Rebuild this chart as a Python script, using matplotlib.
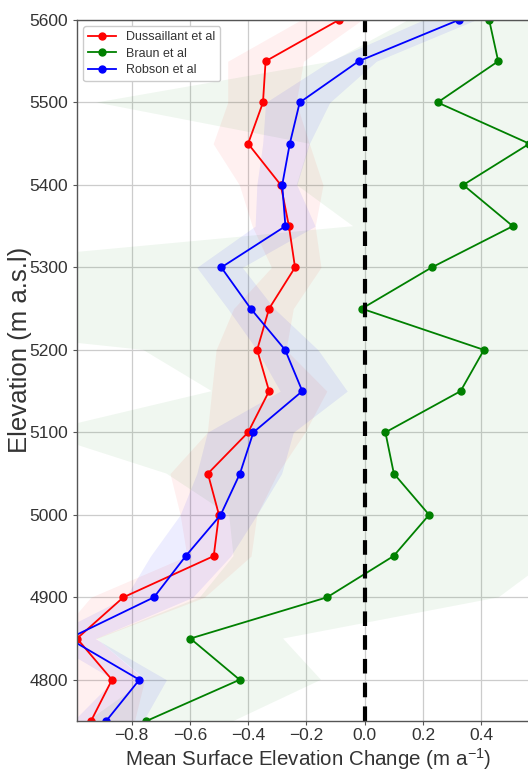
import matplotlib
matplotlib.use("Agg")
import matplotlib.pyplot as plt
import numpy as np

plt.rcParams['font.family'] = ['Liberation Sans', 'DejaVu Sans']
plt.rcParams['mathtext.fontset'] = 'custom'
plt.rcParams['mathtext.rm'] = 'Liberation Sans'
plt.rcParams['mathtext.it'] = 'Liberation Sans'
plt.rcParams['axes.unicode_minus'] = True

elev = [5600, 5550, 5500, 5450, 5400, 5350, 5300, 5250, 5200, 5150,
        5100, 5050, 5000, 4950, 4900, 4850, 4800, 4750]

dus = [-0.089, -0.34, -0.349, -0.40, -0.288, -0.26, -0.239, -0.328, -0.369, -0.328,
       -0.40, -0.538, -0.50, -0.518, -0.828, -0.987, -0.867, -0.939]
dus_lo = [-0.22, -0.47, -0.47, -0.52, -0.43, -0.386, -0.32, -0.45, -0.51, -0.525,
          -0.54, -0.668, -0.633, -0.61, -0.94, -1.06, -1.02, -1.08]
dus_hi = [-0.01, -0.21, -0.235, -0.19, -0.143, -0.17, -0.15, -0.245, -0.27, -0.13,
          -0.205, -0.30, -0.37, -0.39, -0.55, -0.92, -0.755, -0.79]

bra = [0.427, 0.458, 0.250, 0.565, 0.338, 0.508, 0.230, -0.010, 0.409, 0.329,
       0.071, 0.10, 0.221, 0.099, -0.129, -0.598, -0.429, -0.749]
bra_lo = [0.15, -0.11, -0.92, -0.19, -0.233, -0.04, -1.56, -2.1, -0.76, -0.525,
          -1.12, -0.68, -0.465, -0.45, -0.565, -0.92, -0.75, -0.95]
bra_hi = [1.0, 1.1, 1.2, 1.3, 1.2, 1.3, 1.1, 1.0, 1.2, 1.1,
          1.0, 0.9, 0.9, 0.65, 0.46, -0.28, -0.15, -0.45]

rob = [0.322, -0.021, -0.223, -0.257, -0.283, -0.272, -0.492, -0.391, -0.273, -0.214,
       -0.382, -0.428, -0.494, -0.614, -0.723, -1.015, -0.773, -0.887]
rob_lo = [0.20, -0.12, -0.34, -0.35, -0.37, -0.376, -0.576, -0.47, -0.37, -0.29,
          -0.54, -0.576, -0.633, -0.735, -0.82, -1.10, -0.86, -1.0]
rob_hi = [0.38, 0.04, -0.12, -0.19, -0.233, -0.17, -0.42, -0.31, -0.16, -0.06,
          -0.245, -0.285, -0.37, -0.46, -0.59, -0.925, -0.68, -0.76]

xticks = [-0.8, -0.6, -0.4, -0.2, 0.0, 0.2, 0.4]
yticks = [4800, 4900, 5000, 5100, 5200, 5300, 5400, 5500, 5600]

fig = plt.figure(figsize=(5.28, 7.74), dpi=100)
ax = fig.add_axes([77/528, 1-721/774, 462.6/528, (721-20)/774])

ax.fill_betweenx(elev, dus_lo, dus_hi, color='red', alpha=0.06, lw=0)
ax.fill_betweenx(elev, bra_lo, bra_hi, color='green', alpha=0.06, lw=0)
ax.fill_betweenx(elev, rob_lo, rob_hi, color='blue', alpha=0.07, lw=0)

ax.plot(dus, elev, '-o', color='red', lw=1.3, ms=5, label='Dussaillant et al')
ax.plot(bra, elev, '-o', color='green', lw=1.3, ms=5, label='Braun et al')
ax.plot(rob, elev, '-o', color='blue', lw=1.3, ms=5, label='Robson et al')

ax.axvline(0, color='black', lw=3, ls=(0, (3.5, 2.2)))

ax.set_xlim(-0.987, 0.6)
ax.set_ylim(4750, 5600)
ax.set_xticks(xticks)
ax.set_yticks(yticks)
ax.grid(True, color='#cccccc', lw=0.9)
ax.set_axisbelow(True)
for s in ['left', 'bottom', 'top', 'right']:
    ax.spines[s].set_color('#555555')
    ax.spines[s].set_linewidth(1.0)
ax.tick_params(axis='both', labelsize=12.5, colors='#333333', length=3, width=0.8)
ax.tick_params(axis='both', color='#555555')
ax.tick_params(axis='x', pad=2)

ax.set_xlabel(r'Mean Surface Elevation Change (m a$^{-1}$)', fontsize=14.8, color='#333333', labelpad=2)
ax.set_ylabel('Elevation (m a.s.l)', fontsize=18.5, color='#333333')
ax.yaxis.set_label_coords(-0.097, 0.529)

leg = ax.legend(loc='upper left', fontsize=9, frameon=True, framealpha=1.0,
                edgecolor='#cccccc', borderpad=0.4, handlelength=2.2,
                labelspacing=0.35, handletextpad=0.8,
                bbox_to_anchor=(0.0, 1.0))
for t in leg.get_texts():
    t.set_color('#333333')

fig.savefig('out.png', dpi=100)
